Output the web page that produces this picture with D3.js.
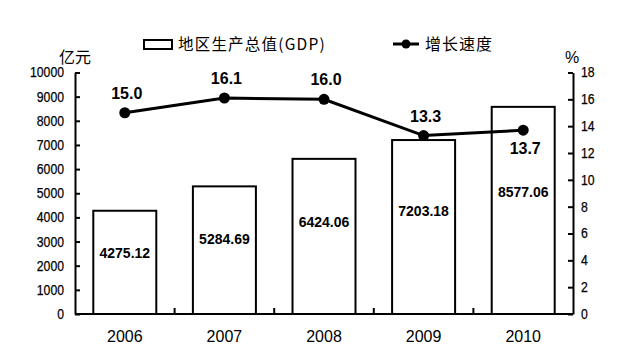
<!DOCTYPE html>
<html><head><meta charset="utf-8">
<script src="https://cdn.jsdelivr.net/npm/d3@7/dist/d3.min.js"></script>
<style>body{margin:0;background:#fff}svg{display:block}</style>
</head><body><svg id="c" width="626" height="353"></svg>
<script>
const years = ["2006","2007","2008","2009","2010"];
const gdp = [4275.12, 5284.69, 6424.06, 7203.18, 8577.06];
const growth = [15.0, 16.1, 16.0, 13.3, 13.7];
const leftTicks = [0,1000,2000,3000,4000,5000,6000,7000,8000,9000,10000];
const rightTicks = [0,2,4,6,8,10,12,14,16,18];
const labelBelow = [false,false,false,false,true];

const svg = d3.select("#c");
const L = 75, R = 573, T = 72.5, B = 314;
const xc = d3.scaleBand().domain(years).range([L, R]);
const yL = d3.scaleLinear().domain([0, 10000]).range([B, T]);
const yR = d3.scaleLinear().domain([0, 18]).range([B, T]);
const sans = "'Liberation Sans',Arial,sans-serif";
const cjk = "'Noto Sans CJK SC',sans-serif";

// bars
svg.append("g").selectAll("rect").data(years).join("rect")
  .attr("x", d => xc(d) + xc.bandwidth()/2 - 31.5)
  .attr("width", 63)
  .attr("y", (d,i) => yL(gdp[i]))
  .attr("height", (d,i) => B - yL(gdp[i]))
  .attr("fill", "#fff").attr("stroke", "#000").attr("stroke-width", 2);

// bar labels
svg.append("g").selectAll("text").data(years).join("text")
  .attr("x", d => xc(d) + xc.bandwidth()/2)
  .attr("y", (d,i) => yL(gdp[i]*0.59) + 5)
  .attr("text-anchor", "middle")
  .attr("font-family", sans).attr("font-weight", "bold").attr("font-size", 14)
  .text((d,i) => gdp[i].toFixed(2));

// left axis
const axL = d3.axisLeft(yL).tickValues(leftTicks).tickFormat(d3.format("d")).tickSizeInner(-5).tickSizeOuter(0).tickPadding(11);
const gL = svg.append("g").attr("transform", `translate(${L},0)`).call(axL);
gL.select(".domain").attr("stroke-width", 2);
gL.selectAll(".tick line").attr("stroke-width", 2);
gL.selectAll("text").attr("font-family", sans).attr("font-size", 14).attr("fill", "#000")
  .attr("stroke", "#000").attr("stroke-width", 0.25)
  .attr("textLength", d => String(d).length * 6.8).attr("lengthAdjust", "spacingAndGlyphs");

// right axis
const axR = d3.axisRight(yR).tickValues(rightTicks).tickFormat(d3.format("d")).tickSizeInner(-5).tickSizeOuter(0).tickPadding(8);
const gR = svg.append("g").attr("transform", `translate(${R},0)`).call(axR);
gR.select(".domain").attr("stroke-width", 2);
gR.selectAll(".tick line").attr("stroke-width", 2);
gR.selectAll("text").attr("font-family", sans).attr("font-size", 14).attr("fill", "#000")
  .attr("stroke", "#000").attr("stroke-width", 0.25)
  .attr("textLength", d => String(d).length * 6.8).attr("lengthAdjust", "spacingAndGlyphs");

// bottom axis
svg.append("line").attr("x1", L).attr("x2", R).attr("y1", B).attr("y2", B)
  .attr("stroke", "#000").attr("stroke-width", 2);
svg.append("g").selectAll("line").data(years.slice(1)).join("line")
  .attr("x1", d => xc(d)).attr("x2", d => xc(d))
  .attr("y1", B).attr("y2", B - 6)
  .attr("stroke", "#000").attr("stroke-width", 2);
svg.append("g").selectAll("text").data(years).join("text")
  .attr("x", d => xc(d) + xc.bandwidth()/2)
  .attr("y", 342)
  .attr("text-anchor", "middle")
  .attr("font-family", sans).attr("font-size", 16)
  .text(d => d);

// line
const line = d3.line().x((d,i) => xc(years[i]) + xc.bandwidth()/2).y(d => yR(d));
svg.append("path").datum(growth).attr("d", line)
  .attr("fill", "none").attr("stroke", "#000").attr("stroke-width", 3);
svg.append("g").selectAll("circle").data(growth).join("circle")
  .attr("cx", (d,i) => xc(years[i]) + xc.bandwidth()/2)
  .attr("cy", d => yR(d)).attr("r", 5.5).attr("fill", "#000");
svg.append("g").selectAll("text").data(growth).join("text")
  .attr("x", (d,i) => xc(years[i]) + xc.bandwidth()/2 + 2)
  .attr("y", (d,i) => yR(d) + (labelBelow[i] ? 24 : -14))
  .attr("text-anchor", "middle")
  .attr("font-family", sans).attr("font-weight", "bold").attr("font-size", 16)
  .text(d => d.toFixed(1));

// unit labels
svg.append("text").attr("x", 75).attr("y", 63).attr("text-anchor", "middle")
  .attr("font-family", cjk).attr("font-size", 16).text("亿元");
svg.append("text").attr("x", 572).attr("y", 63).attr("text-anchor", "middle")
  .attr("font-family", sans).attr("font-size", 16).text("%");

// legend
svg.append("rect").attr("x", 144).attr("y", 40).attr("width", 28).attr("height", 9)
  .attr("fill", "#fff").attr("stroke", "#000").attr("stroke-width", 2);
svg.append("text").attr("x", 178).attr("y", 50)
  .attr("font-family", cjk).attr("font-size", 15.5).attr("letter-spacing", 1.2)
  .text("地区生产总值(GDP)");
svg.append("line").attr("x1", 393).attr("x2", 419).attr("y1", 44).attr("y2", 44)
  .attr("stroke", "#000").attr("stroke-width", 3);
svg.append("circle").attr("cx", 406).attr("cy", 44).attr("r", 4.5).attr("fill", "#000");
svg.append("text").attr("x", 425).attr("y", 50)
  .attr("font-family", cjk).attr("font-size", 16).attr("letter-spacing", 1)
  .text("增长速度");
</script></body></html>
